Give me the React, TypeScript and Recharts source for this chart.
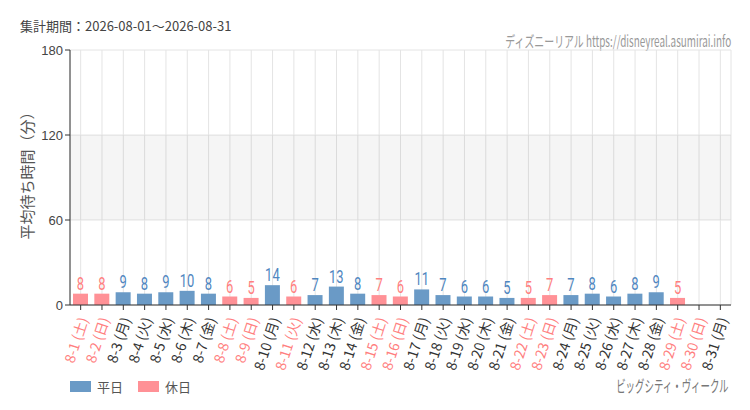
import React from "react"
import {
  BarChart,
  Bar,
  Cell,
  XAxis,
  YAxis,
  CartesianGrid,
  ReferenceArea,
  LabelList,
} from "recharts"

const dayLabels = [
  "8-1 (土)", "8-2 (日)", "8-3 (月)", "8-4 (火)", "8-5 (水)", "8-6 (木)", "8-7 (金)",
  "8-8 (土)", "8-9 (日)", "8-10 (月)", "8-11 (火)", "8-12 (水)", "8-13 (木)", "8-14 (金)",
  "8-15 (土)", "8-16 (日)", "8-17 (月)", "8-18 (火)", "8-19 (水)", "8-20 (木)", "8-21 (金)",
  "8-22 (土)", "8-23 (日)", "8-24 (月)", "8-25 (火)", "8-26 (水)", "8-27 (木)", "8-28 (金)",
  "8-29 (土)", "8-30 (日)", "8-31 (月)",
]

const waitMinutes: (number | null)[] = [
  8, 8, 9, 8, 9, 10, 8, 6, 5, 14, 6, 7, 13, 8, 7, 6, 11, 7, 6, 6, 5, 5, 7, 7, 8, 6, 8, 9, 5,
  null, null,
]

const holidayFlags = [
  1, 1, 0, 0, 0, 0, 0, 1, 1, 0, 1, 0, 0, 0, 1, 1, 0, 0, 0, 0, 0, 1, 1, 0, 0, 0, 0, 0, 1, 1, 0,
]

const yTicks = [0, 60, 120, 180]

const WEEKDAY_BAR = "#6a9ac6"
const HOLIDAY_BAR = "#ff9196"
const WEEKDAY_TEXT = "#4f86bf"
const HOLIDAY_TEXT = "#ff7f7f"

const jp = '"Noto Sans CJK JP", "Noto Sans", sans-serif'

const data = dayLabels.map((label, i) => ({
  label,
  value: waitMinutes[i],
  holiday: holidayFlags[i] === 1,
}))

const DayTick = (props: any) => {
  const { x, y, payload, index } = props
  const isHoliday = holidayFlags[index] === 1
  return (
    <g transform={`translate(${x + 4},${y + 6})`}>
      <text
        x={0}
        y={0}
        dy={4}
        textAnchor="end"
        transform="rotate(-72)"
        fontSize={14}
        fontFamily={jp}
        fill={isHoliday ? HOLIDAY_TEXT : "#333"}
      >
        {payload.value}
      </text>
    </g>
  )
}

const ValueLabel = (props: any) => {
  const { x, y, width, value, index } = props
  if (value === null || value === undefined) return null
  const isHoliday = holidayFlags[index] === 1
  return (
    <g transform={`translate(${x + width / 2},${y - 4}) scale(0.72,1)`}>
      <text
        x={0}
        y={0}
        textAnchor="middle"
        fontSize={18}
        fontFamily="Roboto, sans-serif"
        fill={isHoliday ? HOLIDAY_TEXT : WEEKDAY_TEXT}
      >
        {value}
      </text>
    </g>
  )
}

export default function App() {
  return (
    <div
      style={{
        position: "absolute",
        left: 0,
        top: 0,
        width: 750,
        height: 410,
        background: "#fff",
        fontFamily: jp,
      }}
    >
      <div style={{ position: "absolute", left: 20, top: 16, fontSize: 13, color: "#444", whiteSpace: "nowrap" }}>
        集計期間：2026-08-01～2026-08-31
      </div>
      <div
        style={{
          position: "absolute",
          right: 19,
          top: 30,
          fontSize: 15,
          color: "#999",
          whiteSpace: "nowrap",
          transform: "scaleX(0.66)",
          transformOrigin: "right center",
        }}
      >
        ディズニーリアル https://disneyreal.asumirai.info
      </div>

      <BarChart
        width={750}
        height={410}
        data={data}
        margin={{ top: 50, right: 19, bottom: 30, left: 20 }}
        barSize={15}
      >
        <CartesianGrid stroke="#e4e4e4" vertical={true} horizontal={true} />
        <ReferenceArea y1={60} y2={120} fill="#000" fillOpacity={0.04} stroke="none" />
        <XAxis
          dataKey="label"
          interval={0}
          height={75}
          tick={<DayTick />}
          tickLine={{ stroke: "#333" }}
          axisLine={{ stroke: "#333" }}
          tickSize={5}
        />
        <YAxis
          width={50}
          domain={[0, 180]}
          ticks={yTicks}
          tick={{ fontSize: 13, fill: "#444", fontFamily: '"Liberation Sans", Arial, sans-serif' }}
          tickLine={{ stroke: "#333" }}
          axisLine={{ stroke: "#333" }}
          tickSize={5}
          tickMargin={2}
        />
        <Bar dataKey="value" isAnimationActive={false}>
          {data.map((d, i) => (
            <Cell key={`c-${i}`} fill={d.holiday ? HOLIDAY_BAR : WEEKDAY_BAR} />
          ))}
          <LabelList dataKey="value" content={<ValueLabel />} />
        </Bar>
      </BarChart>

      <svg
        width={60}
        height={410}
        style={{ position: "absolute", left: 0, top: 0, pointerEvents: "none" }}
      >
        <text
          transform="translate(33,172) rotate(-90)"
          textAnchor="middle"
          fontSize={15}
          fontFamily={jp}
          fill="#555"
          textLength={135}
          lengthAdjust="spacingAndGlyphs"
        >
          平均待ち時間（分）
        </text>
      </svg>

      <div style={{ position: "absolute", left: 70, top: 377, display: "flex", alignItems: "center", fontSize: 13, color: "#555" }}>
        <span style={{ display: "inline-block", width: 21, height: 11, background: WEEKDAY_BAR, marginRight: 6 }} />
        <span style={{ marginRight: 15 }}>平日</span>
        <span style={{ display: "inline-block", width: 21, height: 11, background: HOLIDAY_BAR, marginRight: 6 }} />
        <span>休日</span>
      </div>
      <div
        style={{
          position: "absolute",
          right: 21,
          top: 373,
          fontSize: 16,
          color: "#777",
          whiteSpace: "nowrap",
          transform: "scaleX(0.59)",
          transformOrigin: "right center",
        }}
      >
        ビッグシティ・ヴィークル
      </div>
    </div>
  )
}
